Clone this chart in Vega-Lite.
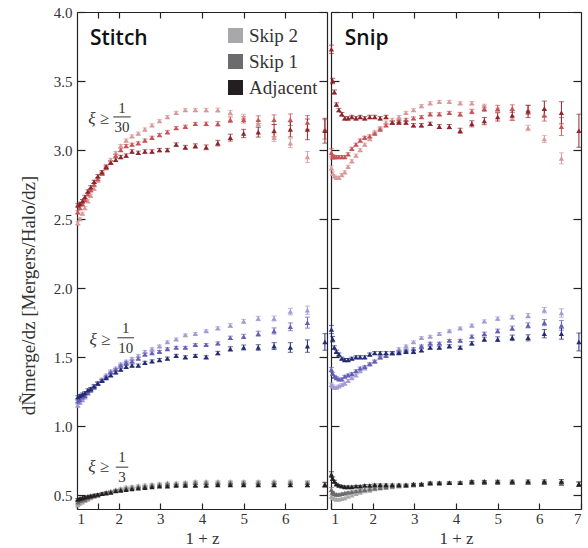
{
"$schema": "https://vega.github.io/schema/vega-lite/v6.json",
"padding": {"left": 19, "top": 5, "right": 4, "bottom": 0},
"spacing": 0,
"config": {
 "font": "Liberation Serif",
 "view": {"stroke": null},
 "axis": {"grid": false, "domainColor": "#222", "tickColor": "#222", "domainWidth": 1.2, "tickWidth": 1.2, "labelColor": "#333", "labelFont": "Liberation Serif", "labelFontSize": 15, "titleFont": "Liberation Serif", "titleFontSize": 18, "titleFontWeight": "normal", "titleColor": "#333"},
 "legend": {"labelFont": "Liberation Serif"}
},
"datasets": {
 "pts": [
{"p":"Stitch","g":"30","s":"Skip 2","x":1.02,"y":2.47,"e":0.01},
{"p":"Stitch","g":"30","s":"Skip 2","x":1.07,"y":2.5,"e":0.01},
{"p":"Stitch","g":"30","s":"Skip 2","x":1.13,"y":2.54,"e":0.01},
{"p":"Stitch","g":"30","s":"Skip 2","x":1.19,"y":2.58,"e":0.01},
{"p":"Stitch","g":"30","s":"Skip 2","x":1.26,"y":2.63,"e":0.01},
{"p":"Stitch","g":"30","s":"Skip 2","x":1.33,"y":2.67,"e":0.01},
{"p":"Stitch","g":"30","s":"Skip 2","x":1.41,"y":2.72,"e":0.01},
{"p":"Stitch","g":"30","s":"Skip 2","x":1.5,"y":2.78,"e":0.01},
{"p":"Stitch","g":"30","s":"Skip 2","x":1.6,"y":2.83,"e":0.01},
{"p":"Stitch","g":"30","s":"Skip 2","x":1.7,"y":2.88,"e":0.01},
{"p":"Stitch","g":"30","s":"Skip 2","x":1.81,"y":2.93,"e":0.01},
{"p":"Stitch","g":"30","s":"Skip 2","x":1.93,"y":2.98,"e":0.01},
{"p":"Stitch","g":"30","s":"Skip 2","x":2.05,"y":3.03,"e":0.01},
{"p":"Stitch","g":"30","s":"Skip 2","x":2.18,"y":3.07,"e":0.01},
{"p":"Stitch","g":"30","s":"Skip 2","x":2.32,"y":3.1,"e":0.01},
{"p":"Stitch","g":"30","s":"Skip 2","x":2.47,"y":3.12,"e":0.01},
{"p":"Stitch","g":"30","s":"Skip 2","x":2.63,"y":3.15,"e":0.01},
{"p":"Stitch","g":"30","s":"Skip 2","x":2.8,"y":3.18,"e":0.01},
{"p":"Stitch","g":"30","s":"Skip 2","x":2.98,"y":3.21,"e":0.01},
{"p":"Stitch","g":"30","s":"Skip 2","x":3.17,"y":3.24,"e":0.01},
{"p":"Stitch","g":"30","s":"Skip 2","x":3.38,"y":3.27,"e":0.01},
{"p":"Stitch","g":"30","s":"Skip 2","x":3.6,"y":3.29,"e":0.01},
{"p":"Stitch","g":"30","s":"Skip 2","x":3.84,"y":3.29,"e":0.01},
{"p":"Stitch","g":"30","s":"Skip 2","x":4.1,"y":3.29,"e":0.012},
{"p":"Stitch","g":"30","s":"Skip 2","x":4.38,"y":3.29,"e":0.014},
{"p":"Stitch","g":"30","s":"Skip 2","x":4.68,"y":3.27,"e":0.016},
{"p":"Stitch","g":"30","s":"Skip 2","x":5.0,"y":3.24,"e":0.02},
{"p":"Stitch","g":"30","s":"Skip 2","x":5.35,"y":3.19,"e":0.024},
{"p":"Stitch","g":"30","s":"Skip 2","x":5.73,"y":3.09,"e":0.028},
{"p":"Stitch","g":"30","s":"Skip 2","x":6.12,"y":3.05,"e":0.032},
{"p":"Stitch","g":"30","s":"Skip 2","x":6.53,"y":2.95,"e":0.04},
{"p":"Stitch","g":"30","s":"Skip 1","x":1.02,"y":2.55,"e":0.01},
{"p":"Stitch","g":"30","s":"Skip 1","x":1.07,"y":2.58,"e":0.01},
{"p":"Stitch","g":"30","s":"Skip 1","x":1.13,"y":2.61,"e":0.01},
{"p":"Stitch","g":"30","s":"Skip 1","x":1.19,"y":2.64,"e":0.01},
{"p":"Stitch","g":"30","s":"Skip 1","x":1.26,"y":2.68,"e":0.01},
{"p":"Stitch","g":"30","s":"Skip 1","x":1.33,"y":2.71,"e":0.01},
{"p":"Stitch","g":"30","s":"Skip 1","x":1.41,"y":2.75,"e":0.01},
{"p":"Stitch","g":"30","s":"Skip 1","x":1.5,"y":2.79,"e":0.01},
{"p":"Stitch","g":"30","s":"Skip 1","x":1.6,"y":2.83,"e":0.01},
{"p":"Stitch","g":"30","s":"Skip 1","x":1.7,"y":2.87,"e":0.01},
{"p":"Stitch","g":"30","s":"Skip 1","x":1.81,"y":2.91,"e":0.01},
{"p":"Stitch","g":"30","s":"Skip 1","x":1.93,"y":2.96,"e":0.01},
{"p":"Stitch","g":"30","s":"Skip 1","x":2.05,"y":3.0,"e":0.01},
{"p":"Stitch","g":"30","s":"Skip 1","x":2.18,"y":3.03,"e":0.01},
{"p":"Stitch","g":"30","s":"Skip 1","x":2.32,"y":3.04,"e":0.01},
{"p":"Stitch","g":"30","s":"Skip 1","x":2.47,"y":3.05,"e":0.01},
{"p":"Stitch","g":"30","s":"Skip 1","x":2.63,"y":3.07,"e":0.01},
{"p":"Stitch","g":"30","s":"Skip 1","x":2.8,"y":3.09,"e":0.01},
{"p":"Stitch","g":"30","s":"Skip 1","x":2.98,"y":3.11,"e":0.01},
{"p":"Stitch","g":"30","s":"Skip 1","x":3.17,"y":3.13,"e":0.01},
{"p":"Stitch","g":"30","s":"Skip 1","x":3.38,"y":3.16,"e":0.01},
{"p":"Stitch","g":"30","s":"Skip 1","x":3.6,"y":3.17,"e":0.01},
{"p":"Stitch","g":"30","s":"Skip 1","x":3.84,"y":3.19,"e":0.01},
{"p":"Stitch","g":"30","s":"Skip 1","x":4.1,"y":3.19,"e":0.013},
{"p":"Stitch","g":"30","s":"Skip 1","x":4.38,"y":3.19,"e":0.016},
{"p":"Stitch","g":"30","s":"Skip 1","x":4.68,"y":3.22,"e":0.02},
{"p":"Stitch","g":"30","s":"Skip 1","x":5.0,"y":3.22,"e":0.024},
{"p":"Stitch","g":"30","s":"Skip 1","x":5.35,"y":3.22,"e":0.028},
{"p":"Stitch","g":"30","s":"Skip 1","x":5.73,"y":3.22,"e":0.035},
{"p":"Stitch","g":"30","s":"Skip 1","x":6.12,"y":3.22,"e":0.042},
{"p":"Stitch","g":"30","s":"Skip 1","x":6.53,"y":3.2,"e":0.05},
{"p":"Stitch","g":"30","s":"Skip 1","x":6.95,"y":3.15,"e":0.07},
{"p":"Stitch","g":"30","s":"Adjacent","x":1.02,"y":2.6,"e":0.012},
{"p":"Stitch","g":"30","s":"Adjacent","x":1.07,"y":2.61,"e":0.012},
{"p":"Stitch","g":"30","s":"Adjacent","x":1.13,"y":2.63,"e":0.012},
{"p":"Stitch","g":"30","s":"Adjacent","x":1.19,"y":2.66,"e":0.012},
{"p":"Stitch","g":"30","s":"Adjacent","x":1.26,"y":2.7,"e":0.012},
{"p":"Stitch","g":"30","s":"Adjacent","x":1.33,"y":2.73,"e":0.012},
{"p":"Stitch","g":"30","s":"Adjacent","x":1.41,"y":2.77,"e":0.012},
{"p":"Stitch","g":"30","s":"Adjacent","x":1.5,"y":2.81,"e":0.012},
{"p":"Stitch","g":"30","s":"Adjacent","x":1.6,"y":2.84,"e":0.012},
{"p":"Stitch","g":"30","s":"Adjacent","x":1.7,"y":2.88,"e":0.012},
{"p":"Stitch","g":"30","s":"Adjacent","x":1.81,"y":2.91,"e":0.012},
{"p":"Stitch","g":"30","s":"Adjacent","x":1.93,"y":2.93,"e":0.012},
{"p":"Stitch","g":"30","s":"Adjacent","x":2.05,"y":2.95,"e":0.012},
{"p":"Stitch","g":"30","s":"Adjacent","x":2.18,"y":2.96,"e":0.012},
{"p":"Stitch","g":"30","s":"Adjacent","x":2.32,"y":2.99,"e":0.012},
{"p":"Stitch","g":"30","s":"Adjacent","x":2.47,"y":2.98,"e":0.012},
{"p":"Stitch","g":"30","s":"Adjacent","x":2.63,"y":2.99,"e":0.012},
{"p":"Stitch","g":"30","s":"Adjacent","x":2.8,"y":2.99,"e":0.012},
{"p":"Stitch","g":"30","s":"Adjacent","x":2.98,"y":3.0,"e":0.012},
{"p":"Stitch","g":"30","s":"Adjacent","x":3.17,"y":3.0,"e":0.012},
{"p":"Stitch","g":"30","s":"Adjacent","x":3.38,"y":3.04,"e":0.012},
{"p":"Stitch","g":"30","s":"Adjacent","x":3.6,"y":3.02,"e":0.014},
{"p":"Stitch","g":"30","s":"Adjacent","x":3.84,"y":3.03,"e":0.015},
{"p":"Stitch","g":"30","s":"Adjacent","x":4.1,"y":3.02,"e":0.017},
{"p":"Stitch","g":"30","s":"Adjacent","x":4.38,"y":3.05,"e":0.02},
{"p":"Stitch","g":"30","s":"Adjacent","x":4.68,"y":3.09,"e":0.025},
{"p":"Stitch","g":"30","s":"Adjacent","x":5.0,"y":3.12,"e":0.03},
{"p":"Stitch","g":"30","s":"Adjacent","x":5.35,"y":3.13,"e":0.036},
{"p":"Stitch","g":"30","s":"Adjacent","x":5.73,"y":3.14,"e":0.045},
{"p":"Stitch","g":"30","s":"Adjacent","x":6.12,"y":3.15,"e":0.055},
{"p":"Stitch","g":"30","s":"Adjacent","x":6.53,"y":3.15,"e":0.075},
{"p":"Stitch","g":"30","s":"Adjacent","x":6.95,"y":3.14,"e":0.09},
{"p":"Stitch","g":"10","s":"Skip 2","x":1.02,"y":1.15,"e":0.008},
{"p":"Stitch","g":"10","s":"Skip 2","x":1.07,"y":1.17,"e":0.008},
{"p":"Stitch","g":"10","s":"Skip 2","x":1.13,"y":1.19,"e":0.008},
{"p":"Stitch","g":"10","s":"Skip 2","x":1.19,"y":1.21,"e":0.008},
{"p":"Stitch","g":"10","s":"Skip 2","x":1.26,"y":1.24,"e":0.008},
{"p":"Stitch","g":"10","s":"Skip 2","x":1.33,"y":1.26,"e":0.008},
{"p":"Stitch","g":"10","s":"Skip 2","x":1.41,"y":1.29,"e":0.008},
{"p":"Stitch","g":"10","s":"Skip 2","x":1.5,"y":1.31,"e":0.008},
{"p":"Stitch","g":"10","s":"Skip 2","x":1.6,"y":1.34,"e":0.008},
{"p":"Stitch","g":"10","s":"Skip 2","x":1.7,"y":1.37,"e":0.008},
{"p":"Stitch","g":"10","s":"Skip 2","x":1.81,"y":1.4,"e":0.008},
{"p":"Stitch","g":"10","s":"Skip 2","x":1.93,"y":1.42,"e":0.008},
{"p":"Stitch","g":"10","s":"Skip 2","x":2.05,"y":1.45,"e":0.008},
{"p":"Stitch","g":"10","s":"Skip 2","x":2.18,"y":1.47,"e":0.008},
{"p":"Stitch","g":"10","s":"Skip 2","x":2.32,"y":1.49,"e":0.008},
{"p":"Stitch","g":"10","s":"Skip 2","x":2.47,"y":1.51,"e":0.008},
{"p":"Stitch","g":"10","s":"Skip 2","x":2.63,"y":1.54,"e":0.008},
{"p":"Stitch","g":"10","s":"Skip 2","x":2.8,"y":1.56,"e":0.008},
{"p":"Stitch","g":"10","s":"Skip 2","x":2.98,"y":1.58,"e":0.008},
{"p":"Stitch","g":"10","s":"Skip 2","x":3.17,"y":1.61,"e":0.008},
{"p":"Stitch","g":"10","s":"Skip 2","x":3.38,"y":1.63,"e":0.008},
{"p":"Stitch","g":"10","s":"Skip 2","x":3.6,"y":1.66,"e":0.008},
{"p":"Stitch","g":"10","s":"Skip 2","x":3.84,"y":1.67,"e":0.008},
{"p":"Stitch","g":"10","s":"Skip 2","x":4.1,"y":1.69,"e":0.008},
{"p":"Stitch","g":"10","s":"Skip 2","x":4.38,"y":1.71,"e":0.01},
{"p":"Stitch","g":"10","s":"Skip 2","x":4.68,"y":1.73,"e":0.012},
{"p":"Stitch","g":"10","s":"Skip 2","x":5.0,"y":1.76,"e":0.014},
{"p":"Stitch","g":"10","s":"Skip 2","x":5.35,"y":1.78,"e":0.016},
{"p":"Stitch","g":"10","s":"Skip 2","x":5.73,"y":1.78,"e":0.018},
{"p":"Stitch","g":"10","s":"Skip 2","x":6.12,"y":1.83,"e":0.024},
{"p":"Stitch","g":"10","s":"Skip 2","x":6.53,"y":1.84,"e":0.03},
{"p":"Stitch","g":"10","s":"Skip 1","x":1.02,"y":1.18,"e":0.008},
{"p":"Stitch","g":"10","s":"Skip 1","x":1.07,"y":1.19,"e":0.008},
{"p":"Stitch","g":"10","s":"Skip 1","x":1.13,"y":1.21,"e":0.008},
{"p":"Stitch","g":"10","s":"Skip 1","x":1.19,"y":1.22,"e":0.008},
{"p":"Stitch","g":"10","s":"Skip 1","x":1.26,"y":1.24,"e":0.008},
{"p":"Stitch","g":"10","s":"Skip 1","x":1.33,"y":1.26,"e":0.008},
{"p":"Stitch","g":"10","s":"Skip 1","x":1.41,"y":1.28,"e":0.008},
{"p":"Stitch","g":"10","s":"Skip 1","x":1.5,"y":1.31,"e":0.008},
{"p":"Stitch","g":"10","s":"Skip 1","x":1.6,"y":1.33,"e":0.008},
{"p":"Stitch","g":"10","s":"Skip 1","x":1.7,"y":1.36,"e":0.008},
{"p":"Stitch","g":"10","s":"Skip 1","x":1.81,"y":1.39,"e":0.008},
{"p":"Stitch","g":"10","s":"Skip 1","x":1.93,"y":1.41,"e":0.008},
{"p":"Stitch","g":"10","s":"Skip 1","x":2.05,"y":1.44,"e":0.008},
{"p":"Stitch","g":"10","s":"Skip 1","x":2.18,"y":1.46,"e":0.008},
{"p":"Stitch","g":"10","s":"Skip 1","x":2.32,"y":1.47,"e":0.008},
{"p":"Stitch","g":"10","s":"Skip 1","x":2.47,"y":1.49,"e":0.008},
{"p":"Stitch","g":"10","s":"Skip 1","x":2.63,"y":1.52,"e":0.008},
{"p":"Stitch","g":"10","s":"Skip 1","x":2.8,"y":1.53,"e":0.008},
{"p":"Stitch","g":"10","s":"Skip 1","x":2.98,"y":1.54,"e":0.008},
{"p":"Stitch","g":"10","s":"Skip 1","x":3.17,"y":1.56,"e":0.008},
{"p":"Stitch","g":"10","s":"Skip 1","x":3.38,"y":1.57,"e":0.008},
{"p":"Stitch","g":"10","s":"Skip 1","x":3.6,"y":1.57,"e":0.008},
{"p":"Stitch","g":"10","s":"Skip 1","x":3.84,"y":1.59,"e":0.008},
{"p":"Stitch","g":"10","s":"Skip 1","x":4.1,"y":1.59,"e":0.008},
{"p":"Stitch","g":"10","s":"Skip 1","x":4.38,"y":1.6,"e":0.01},
{"p":"Stitch","g":"10","s":"Skip 1","x":4.68,"y":1.64,"e":0.012},
{"p":"Stitch","g":"10","s":"Skip 1","x":5.0,"y":1.65,"e":0.015},
{"p":"Stitch","g":"10","s":"Skip 1","x":5.35,"y":1.67,"e":0.018},
{"p":"Stitch","g":"10","s":"Skip 1","x":5.73,"y":1.69,"e":0.022},
{"p":"Stitch","g":"10","s":"Skip 1","x":6.12,"y":1.72,"e":0.028},
{"p":"Stitch","g":"10","s":"Skip 1","x":6.53,"y":1.75,"e":0.04},
{"p":"Stitch","g":"10","s":"Adjacent","x":1.02,"y":1.21,"e":0.01},
{"p":"Stitch","g":"10","s":"Adjacent","x":1.07,"y":1.22,"e":0.01},
{"p":"Stitch","g":"10","s":"Adjacent","x":1.13,"y":1.23,"e":0.01},
{"p":"Stitch","g":"10","s":"Adjacent","x":1.19,"y":1.24,"e":0.01},
{"p":"Stitch","g":"10","s":"Adjacent","x":1.26,"y":1.26,"e":0.01},
{"p":"Stitch","g":"10","s":"Adjacent","x":1.33,"y":1.27,"e":0.01},
{"p":"Stitch","g":"10","s":"Adjacent","x":1.41,"y":1.29,"e":0.01},
{"p":"Stitch","g":"10","s":"Adjacent","x":1.5,"y":1.31,"e":0.01},
{"p":"Stitch","g":"10","s":"Adjacent","x":1.6,"y":1.33,"e":0.01},
{"p":"Stitch","g":"10","s":"Adjacent","x":1.7,"y":1.35,"e":0.01},
{"p":"Stitch","g":"10","s":"Adjacent","x":1.81,"y":1.37,"e":0.01},
{"p":"Stitch","g":"10","s":"Adjacent","x":1.93,"y":1.39,"e":0.01},
{"p":"Stitch","g":"10","s":"Adjacent","x":2.05,"y":1.41,"e":0.01},
{"p":"Stitch","g":"10","s":"Adjacent","x":2.18,"y":1.43,"e":0.01},
{"p":"Stitch","g":"10","s":"Adjacent","x":2.32,"y":1.44,"e":0.01},
{"p":"Stitch","g":"10","s":"Adjacent","x":2.47,"y":1.44,"e":0.01},
{"p":"Stitch","g":"10","s":"Adjacent","x":2.63,"y":1.46,"e":0.01},
{"p":"Stitch","g":"10","s":"Adjacent","x":2.8,"y":1.47,"e":0.01},
{"p":"Stitch","g":"10","s":"Adjacent","x":2.98,"y":1.48,"e":0.01},
{"p":"Stitch","g":"10","s":"Adjacent","x":3.17,"y":1.49,"e":0.01},
{"p":"Stitch","g":"10","s":"Adjacent","x":3.38,"y":1.51,"e":0.01},
{"p":"Stitch","g":"10","s":"Adjacent","x":3.6,"y":1.5,"e":0.01},
{"p":"Stitch","g":"10","s":"Adjacent","x":3.84,"y":1.51,"e":0.01},
{"p":"Stitch","g":"10","s":"Adjacent","x":4.1,"y":1.5,"e":0.01},
{"p":"Stitch","g":"10","s":"Adjacent","x":4.38,"y":1.53,"e":0.012},
{"p":"Stitch","g":"10","s":"Adjacent","x":4.68,"y":1.56,"e":0.015},
{"p":"Stitch","g":"10","s":"Adjacent","x":5.0,"y":1.57,"e":0.018},
{"p":"Stitch","g":"10","s":"Adjacent","x":5.35,"y":1.57,"e":0.02},
{"p":"Stitch","g":"10","s":"Adjacent","x":5.73,"y":1.58,"e":0.025},
{"p":"Stitch","g":"10","s":"Adjacent","x":6.12,"y":1.57,"e":0.035},
{"p":"Stitch","g":"10","s":"Adjacent","x":6.53,"y":1.58,"e":0.045},
{"p":"Stitch","g":"10","s":"Adjacent","x":6.95,"y":1.61,"e":0.06},
{"p":"Stitch","g":"3","s":"Skip 2","x":1.02,"y":0.43,"e":0.005},
{"p":"Stitch","g":"3","s":"Skip 2","x":1.07,"y":0.44,"e":0.005},
{"p":"Stitch","g":"3","s":"Skip 2","x":1.13,"y":0.45,"e":0.005},
{"p":"Stitch","g":"3","s":"Skip 2","x":1.19,"y":0.46,"e":0.005},
{"p":"Stitch","g":"3","s":"Skip 2","x":1.26,"y":0.47,"e":0.005},
{"p":"Stitch","g":"3","s":"Skip 2","x":1.33,"y":0.48,"e":0.005},
{"p":"Stitch","g":"3","s":"Skip 2","x":1.41,"y":0.49,"e":0.005},
{"p":"Stitch","g":"3","s":"Skip 2","x":1.5,"y":0.5,"e":0.005},
{"p":"Stitch","g":"3","s":"Skip 2","x":1.6,"y":0.51,"e":0.005},
{"p":"Stitch","g":"3","s":"Skip 2","x":1.7,"y":0.52,"e":0.005},
{"p":"Stitch","g":"3","s":"Skip 2","x":1.81,"y":0.53,"e":0.005},
{"p":"Stitch","g":"3","s":"Skip 2","x":1.93,"y":0.54,"e":0.005},
{"p":"Stitch","g":"3","s":"Skip 2","x":2.05,"y":0.55,"e":0.005},
{"p":"Stitch","g":"3","s":"Skip 2","x":2.18,"y":0.56,"e":0.005},
{"p":"Stitch","g":"3","s":"Skip 2","x":2.32,"y":0.565,"e":0.005},
{"p":"Stitch","g":"3","s":"Skip 2","x":2.47,"y":0.57,"e":0.005},
{"p":"Stitch","g":"3","s":"Skip 2","x":2.63,"y":0.575,"e":0.005},
{"p":"Stitch","g":"3","s":"Skip 2","x":2.8,"y":0.58,"e":0.005},
{"p":"Stitch","g":"3","s":"Skip 2","x":2.98,"y":0.585,"e":0.005},
{"p":"Stitch","g":"3","s":"Skip 2","x":3.17,"y":0.59,"e":0.005},
{"p":"Stitch","g":"3","s":"Skip 2","x":3.38,"y":0.59,"e":0.005},
{"p":"Stitch","g":"3","s":"Skip 2","x":3.6,"y":0.595,"e":0.005},
{"p":"Stitch","g":"3","s":"Skip 2","x":3.84,"y":0.6,"e":0.005},
{"p":"Stitch","g":"3","s":"Skip 2","x":4.1,"y":0.6,"e":0.005},
{"p":"Stitch","g":"3","s":"Skip 2","x":4.38,"y":0.6,"e":0.005},
{"p":"Stitch","g":"3","s":"Skip 2","x":4.68,"y":0.6,"e":0.006},
{"p":"Stitch","g":"3","s":"Skip 2","x":5.0,"y":0.6,"e":0.007},
{"p":"Stitch","g":"3","s":"Skip 2","x":5.35,"y":0.6,"e":0.007},
{"p":"Stitch","g":"3","s":"Skip 2","x":5.73,"y":0.6,"e":0.008},
{"p":"Stitch","g":"3","s":"Skip 2","x":6.12,"y":0.6,"e":0.009},
{"p":"Stitch","g":"3","s":"Skip 2","x":6.53,"y":0.59,"e":0.012},
{"p":"Stitch","g":"3","s":"Skip 1","x":1.02,"y":0.45,"e":0.005},
{"p":"Stitch","g":"3","s":"Skip 1","x":1.07,"y":0.46,"e":0.005},
{"p":"Stitch","g":"3","s":"Skip 1","x":1.13,"y":0.465,"e":0.005},
{"p":"Stitch","g":"3","s":"Skip 1","x":1.19,"y":0.47,"e":0.005},
{"p":"Stitch","g":"3","s":"Skip 1","x":1.26,"y":0.48,"e":0.005},
{"p":"Stitch","g":"3","s":"Skip 1","x":1.33,"y":0.49,"e":0.005},
{"p":"Stitch","g":"3","s":"Skip 1","x":1.41,"y":0.495,"e":0.005},
{"p":"Stitch","g":"3","s":"Skip 1","x":1.5,"y":0.5,"e":0.005},
{"p":"Stitch","g":"3","s":"Skip 1","x":1.6,"y":0.51,"e":0.005},
{"p":"Stitch","g":"3","s":"Skip 1","x":1.7,"y":0.52,"e":0.005},
{"p":"Stitch","g":"3","s":"Skip 1","x":1.81,"y":0.525,"e":0.005},
{"p":"Stitch","g":"3","s":"Skip 1","x":1.93,"y":0.535,"e":0.005},
{"p":"Stitch","g":"3","s":"Skip 1","x":2.05,"y":0.54,"e":0.005},
{"p":"Stitch","g":"3","s":"Skip 1","x":2.18,"y":0.55,"e":0.005},
{"p":"Stitch","g":"3","s":"Skip 1","x":2.32,"y":0.555,"e":0.005},
{"p":"Stitch","g":"3","s":"Skip 1","x":2.47,"y":0.56,"e":0.005},
{"p":"Stitch","g":"3","s":"Skip 1","x":2.63,"y":0.565,"e":0.005},
{"p":"Stitch","g":"3","s":"Skip 1","x":2.8,"y":0.57,"e":0.005},
{"p":"Stitch","g":"3","s":"Skip 1","x":2.98,"y":0.575,"e":0.005},
{"p":"Stitch","g":"3","s":"Skip 1","x":3.17,"y":0.58,"e":0.005},
{"p":"Stitch","g":"3","s":"Skip 1","x":3.38,"y":0.58,"e":0.005},
{"p":"Stitch","g":"3","s":"Skip 1","x":3.6,"y":0.585,"e":0.005},
{"p":"Stitch","g":"3","s":"Skip 1","x":3.84,"y":0.59,"e":0.005},
{"p":"Stitch","g":"3","s":"Skip 1","x":4.1,"y":0.59,"e":0.005},
{"p":"Stitch","g":"3","s":"Skip 1","x":4.38,"y":0.59,"e":0.005},
{"p":"Stitch","g":"3","s":"Skip 1","x":4.68,"y":0.59,"e":0.006},
{"p":"Stitch","g":"3","s":"Skip 1","x":5.0,"y":0.59,"e":0.007},
{"p":"Stitch","g":"3","s":"Skip 1","x":5.35,"y":0.59,"e":0.008},
{"p":"Stitch","g":"3","s":"Skip 1","x":5.73,"y":0.59,"e":0.009},
{"p":"Stitch","g":"3","s":"Skip 1","x":6.12,"y":0.59,"e":0.01},
{"p":"Stitch","g":"3","s":"Skip 1","x":6.53,"y":0.59,"e":0.012},
{"p":"Stitch","g":"3","s":"Skip 1","x":6.95,"y":0.58,"e":0.015},
{"p":"Stitch","g":"3","s":"Adjacent","x":1.02,"y":0.47,"e":0.006},
{"p":"Stitch","g":"3","s":"Adjacent","x":1.07,"y":0.475,"e":0.006},
{"p":"Stitch","g":"3","s":"Adjacent","x":1.13,"y":0.48,"e":0.006},
{"p":"Stitch","g":"3","s":"Adjacent","x":1.19,"y":0.485,"e":0.006},
{"p":"Stitch","g":"3","s":"Adjacent","x":1.26,"y":0.49,"e":0.006},
{"p":"Stitch","g":"3","s":"Adjacent","x":1.33,"y":0.495,"e":0.006},
{"p":"Stitch","g":"3","s":"Adjacent","x":1.41,"y":0.5,"e":0.006},
{"p":"Stitch","g":"3","s":"Adjacent","x":1.5,"y":0.505,"e":0.006},
{"p":"Stitch","g":"3","s":"Adjacent","x":1.6,"y":0.51,"e":0.006},
{"p":"Stitch","g":"3","s":"Adjacent","x":1.7,"y":0.515,"e":0.006},
{"p":"Stitch","g":"3","s":"Adjacent","x":1.81,"y":0.52,"e":0.006},
{"p":"Stitch","g":"3","s":"Adjacent","x":1.93,"y":0.53,"e":0.006},
{"p":"Stitch","g":"3","s":"Adjacent","x":2.05,"y":0.535,"e":0.006},
{"p":"Stitch","g":"3","s":"Adjacent","x":2.18,"y":0.54,"e":0.006},
{"p":"Stitch","g":"3","s":"Adjacent","x":2.32,"y":0.545,"e":0.006},
{"p":"Stitch","g":"3","s":"Adjacent","x":2.47,"y":0.55,"e":0.006},
{"p":"Stitch","g":"3","s":"Adjacent","x":2.63,"y":0.555,"e":0.006},
{"p":"Stitch","g":"3","s":"Adjacent","x":2.8,"y":0.56,"e":0.006},
{"p":"Stitch","g":"3","s":"Adjacent","x":2.98,"y":0.565,"e":0.006},
{"p":"Stitch","g":"3","s":"Adjacent","x":3.17,"y":0.565,"e":0.006},
{"p":"Stitch","g":"3","s":"Adjacent","x":3.38,"y":0.57,"e":0.006},
{"p":"Stitch","g":"3","s":"Adjacent","x":3.6,"y":0.57,"e":0.006},
{"p":"Stitch","g":"3","s":"Adjacent","x":3.84,"y":0.57,"e":0.006},
{"p":"Stitch","g":"3","s":"Adjacent","x":4.1,"y":0.57,"e":0.006},
{"p":"Stitch","g":"3","s":"Adjacent","x":4.38,"y":0.575,"e":0.007},
{"p":"Stitch","g":"3","s":"Adjacent","x":4.68,"y":0.575,"e":0.007},
{"p":"Stitch","g":"3","s":"Adjacent","x":5.0,"y":0.575,"e":0.008},
{"p":"Stitch","g":"3","s":"Adjacent","x":5.35,"y":0.575,"e":0.009},
{"p":"Stitch","g":"3","s":"Adjacent","x":5.73,"y":0.575,"e":0.01},
{"p":"Stitch","g":"3","s":"Adjacent","x":6.12,"y":0.575,"e":0.011},
{"p":"Stitch","g":"3","s":"Adjacent","x":6.53,"y":0.575,"e":0.013},
{"p":"Stitch","g":"3","s":"Adjacent","x":6.95,"y":0.575,"e":0.016},
{"p":"Snip","g":"30","s":"Skip 2","x":1.01,"y":2.87,"e":0.015},
{"p":"Snip","g":"30","s":"Skip 2","x":1.04,"y":2.83,"e":0.012},
{"p":"Snip","g":"30","s":"Skip 2","x":1.08,"y":2.81,"e":0.01},
{"p":"Snip","g":"30","s":"Skip 2","x":1.13,"y":2.8,"e":0.01},
{"p":"Snip","g":"30","s":"Skip 2","x":1.19,"y":2.8,"e":0.01},
{"p":"Snip","g":"30","s":"Skip 2","x":1.26,"y":2.82,"e":0.01},
{"p":"Snip","g":"30","s":"Skip 2","x":1.33,"y":2.84,"e":0.01},
{"p":"Snip","g":"30","s":"Skip 2","x":1.41,"y":2.88,"e":0.01},
{"p":"Snip","g":"30","s":"Skip 2","x":1.5,"y":2.92,"e":0.01},
{"p":"Snip","g":"30","s":"Skip 2","x":1.6,"y":2.96,"e":0.01},
{"p":"Snip","g":"30","s":"Skip 2","x":1.7,"y":3.0,"e":0.01},
{"p":"Snip","g":"30","s":"Skip 2","x":1.81,"y":3.04,"e":0.01},
{"p":"Snip","g":"30","s":"Skip 2","x":1.93,"y":3.08,"e":0.01},
{"p":"Snip","g":"30","s":"Skip 2","x":2.05,"y":3.13,"e":0.01},
{"p":"Snip","g":"30","s":"Skip 2","x":2.18,"y":3.16,"e":0.01},
{"p":"Snip","g":"30","s":"Skip 2","x":2.32,"y":3.2,"e":0.01},
{"p":"Snip","g":"30","s":"Skip 2","x":2.47,"y":3.22,"e":0.01},
{"p":"Snip","g":"30","s":"Skip 2","x":2.63,"y":3.24,"e":0.01},
{"p":"Snip","g":"30","s":"Skip 2","x":2.8,"y":3.27,"e":0.01},
{"p":"Snip","g":"30","s":"Skip 2","x":2.98,"y":3.29,"e":0.01},
{"p":"Snip","g":"30","s":"Skip 2","x":3.17,"y":3.32,"e":0.01},
{"p":"Snip","g":"30","s":"Skip 2","x":3.38,"y":3.34,"e":0.01},
{"p":"Snip","g":"30","s":"Skip 2","x":3.6,"y":3.35,"e":0.01},
{"p":"Snip","g":"30","s":"Skip 2","x":3.84,"y":3.35,"e":0.01},
{"p":"Snip","g":"30","s":"Skip 2","x":4.1,"y":3.34,"e":0.01},
{"p":"Snip","g":"30","s":"Skip 2","x":4.38,"y":3.34,"e":0.011},
{"p":"Snip","g":"30","s":"Skip 2","x":4.68,"y":3.32,"e":0.012},
{"p":"Snip","g":"30","s":"Skip 2","x":5.0,"y":3.29,"e":0.014},
{"p":"Snip","g":"30","s":"Skip 2","x":5.35,"y":3.23,"e":0.016},
{"p":"Snip","g":"30","s":"Skip 2","x":5.73,"y":3.16,"e":0.02},
{"p":"Snip","g":"30","s":"Skip 2","x":6.12,"y":3.08,"e":0.025},
{"p":"Snip","g":"30","s":"Skip 2","x":6.53,"y":2.94,"e":0.04},
{"p":"Snip","g":"30","s":"Skip 1","x":1.01,"y":2.98,"e":0.03},
{"p":"Snip","g":"30","s":"Skip 1","x":1.04,"y":2.95,"e":0.015},
{"p":"Snip","g":"30","s":"Skip 1","x":1.08,"y":2.95,"e":0.01},
{"p":"Snip","g":"30","s":"Skip 1","x":1.13,"y":2.95,"e":0.01},
{"p":"Snip","g":"30","s":"Skip 1","x":1.19,"y":2.95,"e":0.01},
{"p":"Snip","g":"30","s":"Skip 1","x":1.26,"y":2.95,"e":0.01},
{"p":"Snip","g":"30","s":"Skip 1","x":1.33,"y":2.95,"e":0.01},
{"p":"Snip","g":"30","s":"Skip 1","x":1.41,"y":2.97,"e":0.01},
{"p":"Snip","g":"30","s":"Skip 1","x":1.5,"y":3.01,"e":0.01},
{"p":"Snip","g":"30","s":"Skip 1","x":1.6,"y":3.04,"e":0.01},
{"p":"Snip","g":"30","s":"Skip 1","x":1.7,"y":3.07,"e":0.01},
{"p":"Snip","g":"30","s":"Skip 1","x":1.81,"y":3.09,"e":0.01},
{"p":"Snip","g":"30","s":"Skip 1","x":1.93,"y":3.1,"e":0.01},
{"p":"Snip","g":"30","s":"Skip 1","x":2.05,"y":3.12,"e":0.01},
{"p":"Snip","g":"30","s":"Skip 1","x":2.18,"y":3.15,"e":0.01},
{"p":"Snip","g":"30","s":"Skip 1","x":2.32,"y":3.18,"e":0.01},
{"p":"Snip","g":"30","s":"Skip 1","x":2.47,"y":3.2,"e":0.01},
{"p":"Snip","g":"30","s":"Skip 1","x":2.63,"y":3.21,"e":0.01},
{"p":"Snip","g":"30","s":"Skip 1","x":2.8,"y":3.22,"e":0.01},
{"p":"Snip","g":"30","s":"Skip 1","x":2.98,"y":3.23,"e":0.01},
{"p":"Snip","g":"30","s":"Skip 1","x":3.17,"y":3.24,"e":0.01},
{"p":"Snip","g":"30","s":"Skip 1","x":3.38,"y":3.26,"e":0.01},
{"p":"Snip","g":"30","s":"Skip 1","x":3.6,"y":3.26,"e":0.01},
{"p":"Snip","g":"30","s":"Skip 1","x":3.84,"y":3.27,"e":0.01},
{"p":"Snip","g":"30","s":"Skip 1","x":4.1,"y":3.26,"e":0.013},
{"p":"Snip","g":"30","s":"Skip 1","x":4.38,"y":3.28,"e":0.016},
{"p":"Snip","g":"30","s":"Skip 1","x":4.68,"y":3.3,"e":0.02},
{"p":"Snip","g":"30","s":"Skip 1","x":5.0,"y":3.3,"e":0.024},
{"p":"Snip","g":"30","s":"Skip 1","x":5.35,"y":3.3,"e":0.028},
{"p":"Snip","g":"30","s":"Skip 1","x":5.73,"y":3.29,"e":0.033},
{"p":"Snip","g":"30","s":"Skip 1","x":6.12,"y":3.25,"e":0.04},
{"p":"Snip","g":"30","s":"Skip 1","x":6.53,"y":3.17,"e":0.065},
{"p":"Snip","g":"30","s":"Adjacent","x":1.01,"y":3.73,"e":0.03},
{"p":"Snip","g":"30","s":"Adjacent","x":1.04,"y":3.5,"e":0.02},
{"p":"Snip","g":"30","s":"Adjacent","x":1.08,"y":3.42,"e":0.015},
{"p":"Snip","g":"30","s":"Adjacent","x":1.13,"y":3.33,"e":0.012},
{"p":"Snip","g":"30","s":"Adjacent","x":1.19,"y":3.29,"e":0.012},
{"p":"Snip","g":"30","s":"Adjacent","x":1.26,"y":3.26,"e":0.012},
{"p":"Snip","g":"30","s":"Adjacent","x":1.33,"y":3.23,"e":0.012},
{"p":"Snip","g":"30","s":"Adjacent","x":1.41,"y":3.23,"e":0.012},
{"p":"Snip","g":"30","s":"Adjacent","x":1.5,"y":3.24,"e":0.012},
{"p":"Snip","g":"30","s":"Adjacent","x":1.6,"y":3.23,"e":0.012},
{"p":"Snip","g":"30","s":"Adjacent","x":1.7,"y":3.24,"e":0.012},
{"p":"Snip","g":"30","s":"Adjacent","x":1.81,"y":3.23,"e":0.012},
{"p":"Snip","g":"30","s":"Adjacent","x":1.93,"y":3.24,"e":0.012},
{"p":"Snip","g":"30","s":"Adjacent","x":2.05,"y":3.24,"e":0.012},
{"p":"Snip","g":"30","s":"Adjacent","x":2.18,"y":3.23,"e":0.012},
{"p":"Snip","g":"30","s":"Adjacent","x":2.32,"y":3.24,"e":0.012},
{"p":"Snip","g":"30","s":"Adjacent","x":2.47,"y":3.2,"e":0.012},
{"p":"Snip","g":"30","s":"Adjacent","x":2.63,"y":3.2,"e":0.012},
{"p":"Snip","g":"30","s":"Adjacent","x":2.8,"y":3.2,"e":0.012},
{"p":"Snip","g":"30","s":"Adjacent","x":2.98,"y":3.18,"e":0.012},
{"p":"Snip","g":"30","s":"Adjacent","x":3.17,"y":3.18,"e":0.012},
{"p":"Snip","g":"30","s":"Adjacent","x":3.38,"y":3.19,"e":0.012},
{"p":"Snip","g":"30","s":"Adjacent","x":3.6,"y":3.17,"e":0.014},
{"p":"Snip","g":"30","s":"Adjacent","x":3.84,"y":3.17,"e":0.015},
{"p":"Snip","g":"30","s":"Adjacent","x":4.1,"y":3.14,"e":0.018},
{"p":"Snip","g":"30","s":"Adjacent","x":4.38,"y":3.19,"e":0.022},
{"p":"Snip","g":"30","s":"Adjacent","x":4.68,"y":3.21,"e":0.026},
{"p":"Snip","g":"30","s":"Adjacent","x":5.0,"y":3.24,"e":0.03},
{"p":"Snip","g":"30","s":"Adjacent","x":5.35,"y":3.25,"e":0.035},
{"p":"Snip","g":"30","s":"Adjacent","x":5.73,"y":3.28,"e":0.045},
{"p":"Snip","g":"30","s":"Adjacent","x":6.12,"y":3.3,"e":0.055},
{"p":"Snip","g":"30","s":"Adjacent","x":6.53,"y":3.27,"e":0.08},
{"p":"Snip","g":"30","s":"Adjacent","x":6.95,"y":3.14,"e":0.12},
{"p":"Snip","g":"10","s":"Skip 2","x":1.01,"y":1.3,"e":0.012},
{"p":"Snip","g":"10","s":"Skip 2","x":1.04,"y":1.29,"e":0.01},
{"p":"Snip","g":"10","s":"Skip 2","x":1.08,"y":1.28,"e":0.008},
{"p":"Snip","g":"10","s":"Skip 2","x":1.13,"y":1.28,"e":0.008},
{"p":"Snip","g":"10","s":"Skip 2","x":1.19,"y":1.29,"e":0.008},
{"p":"Snip","g":"10","s":"Skip 2","x":1.26,"y":1.3,"e":0.008},
{"p":"Snip","g":"10","s":"Skip 2","x":1.33,"y":1.31,"e":0.008},
{"p":"Snip","g":"10","s":"Skip 2","x":1.41,"y":1.33,"e":0.008},
{"p":"Snip","g":"10","s":"Skip 2","x":1.5,"y":1.35,"e":0.008},
{"p":"Snip","g":"10","s":"Skip 2","x":1.6,"y":1.37,"e":0.008},
{"p":"Snip","g":"10","s":"Skip 2","x":1.7,"y":1.4,"e":0.008},
{"p":"Snip","g":"10","s":"Skip 2","x":1.81,"y":1.42,"e":0.008},
{"p":"Snip","g":"10","s":"Skip 2","x":1.93,"y":1.45,"e":0.008},
{"p":"Snip","g":"10","s":"Skip 2","x":2.05,"y":1.47,"e":0.008},
{"p":"Snip","g":"10","s":"Skip 2","x":2.18,"y":1.5,"e":0.008},
{"p":"Snip","g":"10","s":"Skip 2","x":2.32,"y":1.51,"e":0.008},
{"p":"Snip","g":"10","s":"Skip 2","x":2.47,"y":1.53,"e":0.008},
{"p":"Snip","g":"10","s":"Skip 2","x":2.63,"y":1.56,"e":0.008},
{"p":"Snip","g":"10","s":"Skip 2","x":2.8,"y":1.58,"e":0.008},
{"p":"Snip","g":"10","s":"Skip 2","x":2.98,"y":1.61,"e":0.008},
{"p":"Snip","g":"10","s":"Skip 2","x":3.17,"y":1.64,"e":0.008},
{"p":"Snip","g":"10","s":"Skip 2","x":3.38,"y":1.65,"e":0.008},
{"p":"Snip","g":"10","s":"Skip 2","x":3.6,"y":1.67,"e":0.008},
{"p":"Snip","g":"10","s":"Skip 2","x":3.84,"y":1.69,"e":0.008},
{"p":"Snip","g":"10","s":"Skip 2","x":4.1,"y":1.71,"e":0.008},
{"p":"Snip","g":"10","s":"Skip 2","x":4.38,"y":1.73,"e":0.009},
{"p":"Snip","g":"10","s":"Skip 2","x":4.68,"y":1.76,"e":0.01},
{"p":"Snip","g":"10","s":"Skip 2","x":5.0,"y":1.78,"e":0.011},
{"p":"Snip","g":"10","s":"Skip 2","x":5.35,"y":1.79,"e":0.013},
{"p":"Snip","g":"10","s":"Skip 2","x":5.73,"y":1.8,"e":0.016},
{"p":"Snip","g":"10","s":"Skip 2","x":6.12,"y":1.84,"e":0.02},
{"p":"Snip","g":"10","s":"Skip 2","x":6.53,"y":1.82,"e":0.03},
{"p":"Snip","g":"10","s":"Skip 1","x":1.01,"y":1.41,"e":0.015},
{"p":"Snip","g":"10","s":"Skip 1","x":1.04,"y":1.38,"e":0.01},
{"p":"Snip","g":"10","s":"Skip 1","x":1.08,"y":1.36,"e":0.008},
{"p":"Snip","g":"10","s":"Skip 1","x":1.13,"y":1.35,"e":0.008},
{"p":"Snip","g":"10","s":"Skip 1","x":1.19,"y":1.34,"e":0.008},
{"p":"Snip","g":"10","s":"Skip 1","x":1.26,"y":1.34,"e":0.008},
{"p":"Snip","g":"10","s":"Skip 1","x":1.33,"y":1.36,"e":0.008},
{"p":"Snip","g":"10","s":"Skip 1","x":1.41,"y":1.37,"e":0.008},
{"p":"Snip","g":"10","s":"Skip 1","x":1.5,"y":1.38,"e":0.008},
{"p":"Snip","g":"10","s":"Skip 1","x":1.6,"y":1.4,"e":0.008},
{"p":"Snip","g":"10","s":"Skip 1","x":1.7,"y":1.42,"e":0.008},
{"p":"Snip","g":"10","s":"Skip 1","x":1.81,"y":1.43,"e":0.008},
{"p":"Snip","g":"10","s":"Skip 1","x":1.93,"y":1.45,"e":0.008},
{"p":"Snip","g":"10","s":"Skip 1","x":2.05,"y":1.47,"e":0.008},
{"p":"Snip","g":"10","s":"Skip 1","x":2.18,"y":1.5,"e":0.008},
{"p":"Snip","g":"10","s":"Skip 1","x":2.32,"y":1.51,"e":0.008},
{"p":"Snip","g":"10","s":"Skip 1","x":2.47,"y":1.53,"e":0.008},
{"p":"Snip","g":"10","s":"Skip 1","x":2.63,"y":1.54,"e":0.008},
{"p":"Snip","g":"10","s":"Skip 1","x":2.8,"y":1.55,"e":0.008},
{"p":"Snip","g":"10","s":"Skip 1","x":2.98,"y":1.56,"e":0.008},
{"p":"Snip","g":"10","s":"Skip 1","x":3.17,"y":1.58,"e":0.008},
{"p":"Snip","g":"10","s":"Skip 1","x":3.38,"y":1.6,"e":0.008},
{"p":"Snip","g":"10","s":"Skip 1","x":3.6,"y":1.6,"e":0.008},
{"p":"Snip","g":"10","s":"Skip 1","x":3.84,"y":1.62,"e":0.008},
{"p":"Snip","g":"10","s":"Skip 1","x":4.1,"y":1.62,"e":0.009},
{"p":"Snip","g":"10","s":"Skip 1","x":4.38,"y":1.65,"e":0.01},
{"p":"Snip","g":"10","s":"Skip 1","x":4.68,"y":1.67,"e":0.011},
{"p":"Snip","g":"10","s":"Skip 1","x":5.0,"y":1.69,"e":0.013},
{"p":"Snip","g":"10","s":"Skip 1","x":5.35,"y":1.71,"e":0.015},
{"p":"Snip","g":"10","s":"Skip 1","x":5.73,"y":1.73,"e":0.018},
{"p":"Snip","g":"10","s":"Skip 1","x":6.12,"y":1.75,"e":0.022},
{"p":"Snip","g":"10","s":"Skip 1","x":6.53,"y":1.73,"e":0.035},
{"p":"Snip","g":"10","s":"Adjacent","x":1.01,"y":1.7,"e":0.03},
{"p":"Snip","g":"10","s":"Adjacent","x":1.04,"y":1.63,"e":0.02},
{"p":"Snip","g":"10","s":"Adjacent","x":1.08,"y":1.57,"e":0.012},
{"p":"Snip","g":"10","s":"Adjacent","x":1.13,"y":1.54,"e":0.01},
{"p":"Snip","g":"10","s":"Adjacent","x":1.19,"y":1.52,"e":0.01},
{"p":"Snip","g":"10","s":"Adjacent","x":1.26,"y":1.49,"e":0.01},
{"p":"Snip","g":"10","s":"Adjacent","x":1.33,"y":1.48,"e":0.01},
{"p":"Snip","g":"10","s":"Adjacent","x":1.41,"y":1.48,"e":0.01},
{"p":"Snip","g":"10","s":"Adjacent","x":1.5,"y":1.49,"e":0.01},
{"p":"Snip","g":"10","s":"Adjacent","x":1.6,"y":1.5,"e":0.01},
{"p":"Snip","g":"10","s":"Adjacent","x":1.7,"y":1.5,"e":0.01},
{"p":"Snip","g":"10","s":"Adjacent","x":1.81,"y":1.5,"e":0.01},
{"p":"Snip","g":"10","s":"Adjacent","x":1.93,"y":1.52,"e":0.01},
{"p":"Snip","g":"10","s":"Adjacent","x":2.05,"y":1.53,"e":0.01},
{"p":"Snip","g":"10","s":"Adjacent","x":2.18,"y":1.53,"e":0.01},
{"p":"Snip","g":"10","s":"Adjacent","x":2.32,"y":1.53,"e":0.01},
{"p":"Snip","g":"10","s":"Adjacent","x":2.47,"y":1.53,"e":0.01},
{"p":"Snip","g":"10","s":"Adjacent","x":2.63,"y":1.53,"e":0.01},
{"p":"Snip","g":"10","s":"Adjacent","x":2.8,"y":1.54,"e":0.01},
{"p":"Snip","g":"10","s":"Adjacent","x":2.98,"y":1.54,"e":0.01},
{"p":"Snip","g":"10","s":"Adjacent","x":3.17,"y":1.55,"e":0.01},
{"p":"Snip","g":"10","s":"Adjacent","x":3.38,"y":1.57,"e":0.01},
{"p":"Snip","g":"10","s":"Adjacent","x":3.6,"y":1.57,"e":0.01},
{"p":"Snip","g":"10","s":"Adjacent","x":3.84,"y":1.58,"e":0.01},
{"p":"Snip","g":"10","s":"Adjacent","x":4.1,"y":1.57,"e":0.01},
{"p":"Snip","g":"10","s":"Adjacent","x":4.38,"y":1.6,"e":0.012},
{"p":"Snip","g":"10","s":"Adjacent","x":4.68,"y":1.63,"e":0.015},
{"p":"Snip","g":"10","s":"Adjacent","x":5.0,"y":1.63,"e":0.017},
{"p":"Snip","g":"10","s":"Adjacent","x":5.35,"y":1.64,"e":0.02},
{"p":"Snip","g":"10","s":"Adjacent","x":5.73,"y":1.64,"e":0.022},
{"p":"Snip","g":"10","s":"Adjacent","x":6.12,"y":1.67,"e":0.03},
{"p":"Snip","g":"10","s":"Adjacent","x":6.53,"y":1.67,"e":0.04},
{"p":"Snip","g":"10","s":"Adjacent","x":6.95,"y":1.61,"e":0.065},
{"p":"Snip","g":"3","s":"Skip 2","x":1.01,"y":0.49,"e":0.01},
{"p":"Snip","g":"3","s":"Skip 2","x":1.04,"y":0.48,"e":0.006},
{"p":"Snip","g":"3","s":"Skip 2","x":1.08,"y":0.475,"e":0.005},
{"p":"Snip","g":"3","s":"Skip 2","x":1.13,"y":0.47,"e":0.005},
{"p":"Snip","g":"3","s":"Skip 2","x":1.19,"y":0.47,"e":0.005},
{"p":"Snip","g":"3","s":"Skip 2","x":1.26,"y":0.475,"e":0.005},
{"p":"Snip","g":"3","s":"Skip 2","x":1.33,"y":0.48,"e":0.005},
{"p":"Snip","g":"3","s":"Skip 2","x":1.41,"y":0.49,"e":0.005},
{"p":"Snip","g":"3","s":"Skip 2","x":1.5,"y":0.5,"e":0.005},
{"p":"Snip","g":"3","s":"Skip 2","x":1.6,"y":0.51,"e":0.005},
{"p":"Snip","g":"3","s":"Skip 2","x":1.7,"y":0.52,"e":0.005},
{"p":"Snip","g":"3","s":"Skip 2","x":1.81,"y":0.53,"e":0.005},
{"p":"Snip","g":"3","s":"Skip 2","x":1.93,"y":0.535,"e":0.005},
{"p":"Snip","g":"3","s":"Skip 2","x":2.05,"y":0.545,"e":0.005},
{"p":"Snip","g":"3","s":"Skip 2","x":2.18,"y":0.55,"e":0.005},
{"p":"Snip","g":"3","s":"Skip 2","x":2.32,"y":0.555,"e":0.005},
{"p":"Snip","g":"3","s":"Skip 2","x":2.47,"y":0.56,"e":0.005},
{"p":"Snip","g":"3","s":"Skip 2","x":2.63,"y":0.565,"e":0.005},
{"p":"Snip","g":"3","s":"Skip 2","x":2.8,"y":0.57,"e":0.005},
{"p":"Snip","g":"3","s":"Skip 2","x":2.98,"y":0.575,"e":0.005},
{"p":"Snip","g":"3","s":"Skip 2","x":3.17,"y":0.58,"e":0.005},
{"p":"Snip","g":"3","s":"Skip 2","x":3.38,"y":0.585,"e":0.005},
{"p":"Snip","g":"3","s":"Skip 2","x":3.6,"y":0.59,"e":0.005},
{"p":"Snip","g":"3","s":"Skip 2","x":3.84,"y":0.59,"e":0.005},
{"p":"Snip","g":"3","s":"Skip 2","x":4.1,"y":0.595,"e":0.005},
{"p":"Snip","g":"3","s":"Skip 2","x":4.38,"y":0.595,"e":0.005},
{"p":"Snip","g":"3","s":"Skip 2","x":4.68,"y":0.595,"e":0.006},
{"p":"Snip","g":"3","s":"Skip 2","x":5.0,"y":0.595,"e":0.006},
{"p":"Snip","g":"3","s":"Skip 2","x":5.35,"y":0.59,"e":0.007},
{"p":"Snip","g":"3","s":"Skip 2","x":5.73,"y":0.59,"e":0.008},
{"p":"Snip","g":"3","s":"Skip 2","x":6.12,"y":0.59,"e":0.009},
{"p":"Snip","g":"3","s":"Skip 2","x":6.53,"y":0.585,"e":0.012},
{"p":"Snip","g":"3","s":"Skip 1","x":1.01,"y":0.54,"e":0.015},
{"p":"Snip","g":"3","s":"Skip 1","x":1.04,"y":0.52,"e":0.008},
{"p":"Snip","g":"3","s":"Skip 1","x":1.08,"y":0.51,"e":0.005},
{"p":"Snip","g":"3","s":"Skip 1","x":1.13,"y":0.505,"e":0.005},
{"p":"Snip","g":"3","s":"Skip 1","x":1.19,"y":0.505,"e":0.005},
{"p":"Snip","g":"3","s":"Skip 1","x":1.26,"y":0.51,"e":0.005},
{"p":"Snip","g":"3","s":"Skip 1","x":1.33,"y":0.515,"e":0.005},
{"p":"Snip","g":"3","s":"Skip 1","x":1.41,"y":0.52,"e":0.005},
{"p":"Snip","g":"3","s":"Skip 1","x":1.5,"y":0.525,"e":0.005},
{"p":"Snip","g":"3","s":"Skip 1","x":1.6,"y":0.53,"e":0.005},
{"p":"Snip","g":"3","s":"Skip 1","x":1.7,"y":0.535,"e":0.005},
{"p":"Snip","g":"3","s":"Skip 1","x":1.81,"y":0.54,"e":0.005},
{"p":"Snip","g":"3","s":"Skip 1","x":1.93,"y":0.545,"e":0.005},
{"p":"Snip","g":"3","s":"Skip 1","x":2.05,"y":0.55,"e":0.005},
{"p":"Snip","g":"3","s":"Skip 1","x":2.18,"y":0.555,"e":0.005},
{"p":"Snip","g":"3","s":"Skip 1","x":2.32,"y":0.56,"e":0.005},
{"p":"Snip","g":"3","s":"Skip 1","x":2.47,"y":0.565,"e":0.005},
{"p":"Snip","g":"3","s":"Skip 1","x":2.63,"y":0.57,"e":0.005},
{"p":"Snip","g":"3","s":"Skip 1","x":2.8,"y":0.57,"e":0.005},
{"p":"Snip","g":"3","s":"Skip 1","x":2.98,"y":0.575,"e":0.005},
{"p":"Snip","g":"3","s":"Skip 1","x":3.17,"y":0.58,"e":0.005},
{"p":"Snip","g":"3","s":"Skip 1","x":3.38,"y":0.585,"e":0.005},
{"p":"Snip","g":"3","s":"Skip 1","x":3.6,"y":0.585,"e":0.005},
{"p":"Snip","g":"3","s":"Skip 1","x":3.84,"y":0.59,"e":0.005},
{"p":"Snip","g":"3","s":"Skip 1","x":4.1,"y":0.59,"e":0.005},
{"p":"Snip","g":"3","s":"Skip 1","x":4.38,"y":0.59,"e":0.006},
{"p":"Snip","g":"3","s":"Skip 1","x":4.68,"y":0.59,"e":0.006},
{"p":"Snip","g":"3","s":"Skip 1","x":5.0,"y":0.59,"e":0.007},
{"p":"Snip","g":"3","s":"Skip 1","x":5.35,"y":0.59,"e":0.008},
{"p":"Snip","g":"3","s":"Skip 1","x":5.73,"y":0.59,"e":0.009},
{"p":"Snip","g":"3","s":"Skip 1","x":6.12,"y":0.59,"e":0.01},
{"p":"Snip","g":"3","s":"Skip 1","x":6.53,"y":0.585,"e":0.012},
{"p":"Snip","g":"3","s":"Skip 1","x":6.95,"y":0.58,"e":0.015},
{"p":"Snip","g":"3","s":"Adjacent","x":1.01,"y":0.65,"e":0.02},
{"p":"Snip","g":"3","s":"Adjacent","x":1.04,"y":0.62,"e":0.012},
{"p":"Snip","g":"3","s":"Adjacent","x":1.08,"y":0.6,"e":0.008},
{"p":"Snip","g":"3","s":"Adjacent","x":1.13,"y":0.58,"e":0.006},
{"p":"Snip","g":"3","s":"Adjacent","x":1.19,"y":0.57,"e":0.006},
{"p":"Snip","g":"3","s":"Adjacent","x":1.26,"y":0.565,"e":0.006},
{"p":"Snip","g":"3","s":"Adjacent","x":1.33,"y":0.56,"e":0.006},
{"p":"Snip","g":"3","s":"Adjacent","x":1.41,"y":0.56,"e":0.006},
{"p":"Snip","g":"3","s":"Adjacent","x":1.5,"y":0.56,"e":0.006},
{"p":"Snip","g":"3","s":"Adjacent","x":1.6,"y":0.565,"e":0.006},
{"p":"Snip","g":"3","s":"Adjacent","x":1.7,"y":0.565,"e":0.006},
{"p":"Snip","g":"3","s":"Adjacent","x":1.81,"y":0.57,"e":0.006},
{"p":"Snip","g":"3","s":"Adjacent","x":1.93,"y":0.57,"e":0.006},
{"p":"Snip","g":"3","s":"Adjacent","x":2.05,"y":0.575,"e":0.006},
{"p":"Snip","g":"3","s":"Adjacent","x":2.18,"y":0.575,"e":0.006},
{"p":"Snip","g":"3","s":"Adjacent","x":2.32,"y":0.575,"e":0.006},
{"p":"Snip","g":"3","s":"Adjacent","x":2.47,"y":0.575,"e":0.006},
{"p":"Snip","g":"3","s":"Adjacent","x":2.63,"y":0.575,"e":0.006},
{"p":"Snip","g":"3","s":"Adjacent","x":2.8,"y":0.575,"e":0.006},
{"p":"Snip","g":"3","s":"Adjacent","x":2.98,"y":0.58,"e":0.006},
{"p":"Snip","g":"3","s":"Adjacent","x":3.17,"y":0.58,"e":0.006},
{"p":"Snip","g":"3","s":"Adjacent","x":3.38,"y":0.59,"e":0.006},
{"p":"Snip","g":"3","s":"Adjacent","x":3.6,"y":0.59,"e":0.006},
{"p":"Snip","g":"3","s":"Adjacent","x":3.84,"y":0.59,"e":0.006},
{"p":"Snip","g":"3","s":"Adjacent","x":4.1,"y":0.59,"e":0.006},
{"p":"Snip","g":"3","s":"Adjacent","x":4.38,"y":0.6,"e":0.007},
{"p":"Snip","g":"3","s":"Adjacent","x":4.68,"y":0.6,"e":0.007},
{"p":"Snip","g":"3","s":"Adjacent","x":5.0,"y":0.6,"e":0.008},
{"p":"Snip","g":"3","s":"Adjacent","x":5.35,"y":0.6,"e":0.009},
{"p":"Snip","g":"3","s":"Adjacent","x":5.73,"y":0.6,"e":0.01},
{"p":"Snip","g":"3","s":"Adjacent","x":6.12,"y":0.6,"e":0.011},
{"p":"Snip","g":"3","s":"Adjacent","x":6.53,"y":0.6,"e":0.013},
{"p":"Snip","g":"3","s":"Adjacent","x":6.95,"y":0.58,"e":0.016}
 ]
},
"resolve": {"scale": {"color": "independent"}, "legend": {"color": "independent"}},
"hconcat": [
 {
  "width": 250, "height": 497,
  "resolve": {"scale": {"color": "independent"}, "axis": {"x": "independent", "y": "independent"}, "legend": {"color": "independent"}},
  "layer": [
   {
    "data": {"name": "pts"},
    "transform": [{"filter": "datum.p == 'Stitch' && datum.g != '3'"}, {"calculate": "datum.g + '|' + datum.s", "as": "k"}],
    "mark": {"type": "errorbar", "ticks": true, "size": 5, "thickness": 1},
    "encoding": {
     "x": {"field": "x", "type": "quantitative", "scale": {"domain": [1, 7], "nice": false, "zero": false},
       "axis": {"orient": "bottom", "values": [1, 1.5, 2, 3, 4, 5, 6], "labelExpr": "datum.value == 1.5 ? '' : format(datum.value, 'd')", "tickSize": -6, "labelPadding": 8, "title": "1 + z", "titleFontSize": 17, "titlePadding": 4, "domain": true}},
     "y": {"field": "y", "type": "quantitative", "scale": {"domain": [0.4, 4.0], "nice": false, "zero": false},
       "axis": {"orient": "left", "values": [0.5, 1, 1.5, 2, 2.5, 3, 3.5, 4], "format": ".1f", "tickSize": -8, "labelPadding": 13, "title": "dÑmerge/dz  [Mergers/Halo/dz]", "titleFontSize": 19, "titleY": 283, "titlePadding": 15, "domain": true}},
     "yError": {"field": "e"},
     "color": {"field": "k", "type": "nominal", "legend": null, "scale": {"domain": ["30|Skip 2", "30|Skip 1", "30|Adjacent", "10|Skip 2", "10|Skip 1", "10|Adjacent"], "range": ["#d8999b", "#c65456", "#8c262c", "#a49ad4", "#655fb8", "#252b70"]}}
    }
   },
   {
    "data": {"name": "pts"},
    "transform": [{"filter": "datum.p == 'Stitch' && datum.g != '3'"}, {"calculate": "datum.g + '|' + datum.s", "as": "k"}],
    "mark": {"type": "point", "shape": "triangle-up", "filled": true, "size": 28, "opacity": 1},
    "encoding": {
     "x": {"field": "x", "type": "quantitative", "axis": null},
     "y": {"field": "y", "type": "quantitative", "axis": null},
     "color": {"field": "k", "type": "nominal", "legend": null, "scale": {"domain": ["30|Skip 2", "30|Skip 1", "30|Adjacent", "10|Skip 2", "10|Skip 1", "10|Adjacent"], "range": ["#d8999b", "#c65456", "#8c262c", "#a49ad4", "#655fb8", "#252b70"]}}
    }
   },
   {
    "data": {"name": "pts"},
    "transform": [{"filter": "datum.p == 'Stitch' && datum.g == '3'"}],
    "mark": {"type": "errorbar", "ticks": true, "size": 5, "thickness": 1},
    "encoding": {
     "x": {"field": "x", "type": "quantitative", "axis": null},
     "y": {"field": "y", "type": "quantitative", "axis": null},
     "yError": {"field": "e"},
     "color": {"field": "s", "type": "nominal", "legend": null, "scale": {"domain": ["Skip 2", "Skip 1", "Adjacent"], "range": ["#b0b0b2", "#717173", "#231f20"]}}
    }
   },
   {
    "data": {"name": "pts"},
    "transform": [{"filter": "datum.p == 'Stitch' && datum.g == '3'"}],
    "mark": {"type": "point", "shape": "triangle-up", "filled": true, "size": 28, "opacity": 1},
    "encoding": {
     "x": {"field": "x", "type": "quantitative", "axis": null},
     "y": {"field": "y", "type": "quantitative", "axis": null},
     "color": {"field": "s", "type": "nominal", "scale": {"domain": ["Skip 2", "Skip 1", "Adjacent"], "range": ["#a8a8aa", "#6b6b6d", "#231f20"]},
       "legend": {"orient": "none", "legendX": 149, "legendY": 14, "title": null, "symbolType": "square", "symbolSize": 225, "symbolStrokeWidth": 0, "symbolOpacity": 1, "labelFont": "Liberation Serif", "labelFontSize": 19, "labelColor": "#333", "rowPadding": 6, "labelOffset": 4, "padding": 0}}
    }
   },
   {
    "data": {"values": [{"x": 1.31, "y": 3.76, "t": "Stitch"}]},
    "mark": {"type": "text", "font": "Open Sans", "fontWeight": 600, "fontSize": 21, "align": "left", "baseline": "alphabetic", "color": "#111"},
    "encoding": {
     "x": {"field": "x", "type": "quantitative", "axis": {"orient": "top", "values": [1.5, 2, 3, 4, 5, 6], "labels": false, "title": null, "tickSize": -6, "domain": true}},
     "y": {"field": "y", "type": "quantitative", "axis": {"orient": "right", "values": [0.5, 1, 1.5, 2, 2.5, 3, 3.5, 4], "labels": false, "title": null, "tickSize": -8, "domain": true}},
     "text": {"field": "t"}
    }
   },
   {
    "data": {"values": [{"x": 1.27, "y": 3.225, "t": "ξ ≥"}, {"x": 1.3, "y": 1.623, "t": "ξ ≥"}, {"x": 1.27, "y": 0.703, "t": "ξ ≥"}]},
    "mark": {"type": "text", "font": "Liberation Serif", "fontStyle": "italic", "fontSize": 17, "align": "left", "baseline": "middle", "color": "#333"},
    "encoding": {
     "x": {"field": "x", "type": "quantitative", "axis": null},
     "y": {"field": "y", "type": "quantitative", "axis": null},
     "text": {"field": "t"}
    }
   },
   {
    "data": {"values": [{"x": 2.08, "y": 3.305, "t": "1"}, {"x": 2.08, "y": 3.17, "t": "30"}, {"x": 2.17, "y": 1.71, "t": "1"}, {"x": 2.17, "y": 1.565, "t": "10"}, {"x": 2.08, "y": 0.775, "t": "1"}, {"x": 2.08, "y": 0.63, "t": "3"}]},
    "mark": {"type": "text", "font": "Liberation Serif", "fontSize": 15, "align": "center", "baseline": "middle", "color": "#333"},
    "encoding": {
     "x": {"field": "x", "type": "quantitative", "axis": null},
     "y": {"field": "y", "type": "quantitative", "axis": null},
     "text": {"field": "t"}
    }
   },
   {
    "data": {"values": [{"x": 1.87, "x2": 2.29, "y": 3.24}, {"x": 1.97, "x2": 2.37, "y": 1.64}, {"x": 1.93, "x2": 2.23, "y": 0.703}]},
    "mark": {"type": "rule", "color": "#333", "strokeWidth": 1},
    "encoding": {
     "x": {"field": "x", "type": "quantitative", "axis": null},
     "x2": {"field": "x2"},
     "y": {"field": "y", "type": "quantitative", "axis": null}
    }
   }
  ]
 },
 {
  "width": 250, "height": 497,
  "resolve": {"scale": {"color": "independent"}, "axis": {"x": "independent", "y": "independent"}, "legend": {"color": "independent"}},
  "layer": [
   {
    "data": {"name": "pts"},
    "transform": [{"filter": "datum.p == 'Snip' && datum.g != '3'"}, {"calculate": "datum.g + '|' + datum.s", "as": "k"}],
    "mark": {"type": "errorbar", "ticks": true, "size": 5, "thickness": 1},
    "encoding": {
     "x": {"field": "x", "type": "quantitative", "scale": {"domain": [1, 7], "nice": false, "zero": false},
       "axis": {"orient": "bottom", "values": [1, 1.5, 2, 3, 4, 5, 6, 7], "labelExpr": "datum.value == 1.5 ? '' : format(datum.value, 'd')", "tickSize": -6, "labelPadding": 8, "title": "1 + z", "titleFontSize": 17, "titlePadding": 4, "domain": true}},
     "y": {"field": "y", "type": "quantitative", "scale": {"domain": [0.4, 4.0], "nice": false, "zero": false},
       "axis": {"orient": "left", "values": [0.5, 1, 1.5, 2, 2.5, 3, 3.5, 4], "labels": false, "tickSize": -8, "title": null, "domain": true}},
     "yError": {"field": "e"},
     "color": {"field": "k", "type": "nominal", "legend": null, "scale": {"domain": ["30|Skip 2", "30|Skip 1", "30|Adjacent", "10|Skip 2", "10|Skip 1", "10|Adjacent"], "range": ["#d8999b", "#c65456", "#8c262c", "#a49ad4", "#655fb8", "#252b70"]}}
    }
   },
   {
    "data": {"name": "pts"},
    "transform": [{"filter": "datum.p == 'Snip' && datum.g != '3'"}, {"calculate": "datum.g + '|' + datum.s", "as": "k"}],
    "mark": {"type": "point", "shape": "triangle-up", "filled": true, "size": 28, "opacity": 1},
    "encoding": {
     "x": {"field": "x", "type": "quantitative", "axis": null},
     "y": {"field": "y", "type": "quantitative", "axis": null},
     "color": {"field": "k", "type": "nominal", "legend": null, "scale": {"domain": ["30|Skip 2", "30|Skip 1", "30|Adjacent", "10|Skip 2", "10|Skip 1", "10|Adjacent"], "range": ["#d8999b", "#c65456", "#8c262c", "#a49ad4", "#655fb8", "#252b70"]}}
    }
   },
   {
    "data": {"name": "pts"},
    "transform": [{"filter": "datum.p == 'Snip' && datum.g == '3'"}],
    "mark": {"type": "errorbar", "ticks": true, "size": 5, "thickness": 1},
    "encoding": {
     "x": {"field": "x", "type": "quantitative", "axis": null},
     "y": {"field": "y", "type": "quantitative", "axis": null},
     "yError": {"field": "e"},
     "color": {"field": "s", "type": "nominal", "legend": null, "scale": {"domain": ["Skip 2", "Skip 1", "Adjacent"], "range": ["#b0b0b2", "#717173", "#231f20"]}}
    }
   },
   {
    "data": {"name": "pts"},
    "transform": [{"filter": "datum.p == 'Snip' && datum.g == '3'"}],
    "mark": {"type": "point", "shape": "triangle-up", "filled": true, "size": 28, "opacity": 1},
    "encoding": {
     "x": {"field": "x", "type": "quantitative", "axis": null},
     "y": {"field": "y", "type": "quantitative", "axis": null},
     "color": {"field": "s", "type": "nominal", "legend": null, "scale": {"domain": ["Skip 2", "Skip 1", "Adjacent"], "range": ["#a8a8aa", "#6b6b6d", "#231f20"]}}
    }
   },
   {
    "data": {"values": [{"x": 1.33, "y": 3.76, "t": "Snip"}]},
    "mark": {"type": "text", "font": "Open Sans", "fontWeight": 600, "fontSize": 21, "align": "left", "baseline": "alphabetic", "color": "#111"},
    "encoding": {
     "x": {"field": "x", "type": "quantitative", "axis": {"orient": "top", "values": [1.5, 2, 3, 4, 5, 6], "labels": false, "title": null, "tickSize": -6, "domain": true}},
     "y": {"field": "y", "type": "quantitative", "axis": {"orient": "right", "values": [0.5, 1, 1.5, 2, 2.5, 3, 3.5, 4], "labels": false, "title": null, "tickSize": -8, "domain": true}},
     "text": {"field": "t"}
    }
   }
  ]
 }
]
}
